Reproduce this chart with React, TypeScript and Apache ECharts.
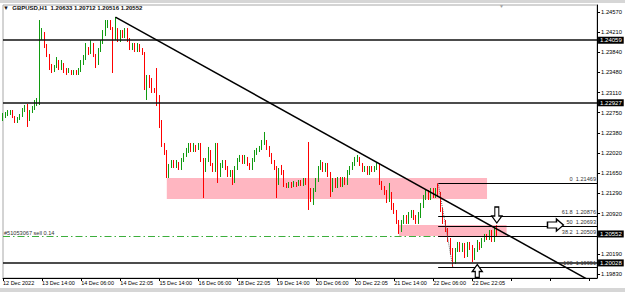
import { useEffect, useRef } from 'react';
import * as echarts from 'echarts';

const FONT = "'Liberation Sans', Arial, sans-serif";

// time axis: one label every 16 hourly bars
const timeLabels = [
  '12 Dec 2022', '13 Dec 14:00', '14 Dec 06:00', '14 Dec 22:05', '15 Dec 14:00',
  '16 Dec 06:00', '18 Dec 22:05', '19 Dec 14:00', '20 Dec 06:00', '20 Dec 22:05',
  '21 Dec 14:00', '22 Dec 06:00', '22 Dec 22:05',
];
const labelStep = 16;
const slotCount = 244; // visible bar slots including right chart shift
const categories = Array.from({ length: slotCount }, (_, i) => 'b' + i);

// price axis tick labels
const yTicks = [1.2457, 1.2421, 1.2384, 1.2348, 1.2311, 1.2275, 1.2238, 1.2202, 1.2165, 1.2129, 1.2092, 1.2019, 1.1983];
const yMin = 1.19755;
const yMax = 1.24697;

// GBPUSD H1 candles: [open, close, low, high]
const candles: [number, number, number, number][] = [
  [1.22651, 1.22687, 1.22597, 1.22742], [1.22687, 1.22724, 1.22651, 1.2276], [1.22724, 1.22742, 1.22687, 1.22796],
  [1.22742, 1.2276, 1.22706, 1.22796], [1.2276, 1.22669, 1.22651, 1.22796], [1.22669, 1.22597, 1.22561, 1.22687],
  [1.22597, 1.22651, 1.22561, 1.22669], [1.22651, 1.22687, 1.22615, 1.22724], [1.22687, 1.22796, 1.22669, 1.22832],
  [1.22796, 1.22832, 1.2276, 1.22887], [1.22832, 1.22615, 1.22489, 1.22905], [1.22615, 1.2276, 1.22597, 1.22796],
  [1.2276, 1.22832, 1.22742, 1.22868], [1.22832, 1.22905, 1.22796, 1.22977], [1.22905, 1.22977, 1.22868, 1.23013],
  [1.22977, 1.24099, 1.22887, 1.24425], [1.24099, 1.2419, 1.24063, 1.2428], [1.2419, 1.23936, 1.23918, 1.24208],
  [1.23936, 1.23792, 1.23755, 1.23991], [1.23792, 1.23611, 1.2352, 1.2381], [1.23611, 1.2352, 1.23466, 1.23629],
  [1.2352, 1.23593, 1.23484, 1.23611], [1.23593, 1.23701, 1.23556, 1.23755], [1.23701, 1.23556, 1.2352, 1.23701],
  [1.23556, 1.23647, 1.2352, 1.23701], [1.23647, 1.2352, 1.23466, 1.23647], [1.2352, 1.23484, 1.2343, 1.23556],
  [1.23484, 1.2352, 1.23466, 1.23556], [1.2352, 1.23466, 1.2343, 1.2352], [1.23466, 1.23502, 1.2343, 1.2352],
  [1.23502, 1.23466, 1.2343, 1.2352], [1.23466, 1.2352, 1.2343, 1.23556], [1.2352, 1.23647, 1.23484, 1.23701],
  [1.23647, 1.23755, 1.23611, 1.23792], [1.23755, 1.23918, 1.23701, 1.24009], [1.23918, 1.23846, 1.23792, 1.23936],
  [1.23846, 1.23991, 1.2381, 1.24063], [1.23991, 1.23792, 1.23755, 1.24009], [1.23792, 1.23629, 1.23556, 1.2381],
  [1.23629, 1.23882, 1.23611, 1.23918], [1.23882, 1.24027, 1.23846, 1.24063], [1.24027, 1.2419, 1.23991, 1.24244],
  [1.2419, 1.24298, 1.24135, 1.24425], [1.24298, 1.24389, 1.2428, 1.24425], [1.24389, 1.2428, 1.24244, 1.24425],
  [1.2428, 1.24099, 1.23466, 1.24298], [1.24099, 1.24244, 1.24063, 1.24479], [1.24244, 1.24063, 1.24027, 1.2428],
  [1.24063, 1.24208, 1.24027, 1.24244], [1.24208, 1.24135, 1.24099, 1.24244], [1.24135, 1.24244, 1.24099, 1.2428],
  [1.24244, 1.24063, 1.24027, 1.2428], [1.24063, 1.23918, 1.23882, 1.24099], [1.23918, 1.23972, 1.23882, 1.24009],
  [1.23972, 1.23882, 1.23846, 1.24009], [1.23882, 1.23972, 1.23846, 1.24009], [1.23972, 1.23882, 1.23846, 1.23991],
  [1.23882, 1.2381, 1.23792, 1.23918], [1.2381, 1.23194, 1.23158, 1.23846], [1.23194, 1.23375, 1.22977, 1.2343],
  [1.23375, 1.23267, 1.23194, 1.2343], [1.23267, 1.23158, 1.23104, 1.23375], [1.23158, 1.23122, 1.23104, 1.23194],
  [1.23122, 1.23013, 1.22868, 1.23556], [1.23013, 1.22525, 1.2247, 1.23067], [1.22525, 1.22163, 1.22127, 1.22615],
  [1.22163, 1.22018, 1.21982, 1.22199], [1.22018, 1.2162, 1.21565, 1.22072], [1.2162, 1.21782, 1.21565, 1.21819],
  [1.21782, 1.21855, 1.21746, 1.21891], [1.21855, 1.21782, 1.21746, 1.21891], [1.21782, 1.21837, 1.21746, 1.21891],
  [1.21837, 1.21746, 1.2171, 1.21855], [1.21746, 1.21891, 1.2171, 1.21927], [1.21891, 1.21982, 1.21855, 1.22018],
  [1.21982, 1.22036, 1.21946, 1.22109], [1.22036, 1.22163, 1.22018, 1.22199], [1.22163, 1.22072, 1.22036, 1.22199],
  [1.22072, 1.22145, 1.22036, 1.22199], [1.22145, 1.22091, 1.22036, 1.22163], [1.22091, 1.22163, 1.22072, 1.22199],
  [1.22163, 1.21891, 1.21855, 1.22199], [1.21891, 1.2171, 1.21203, 1.21927], [1.2171, 1.21891, 1.21674, 1.21927],
  [1.21891, 1.22036, 1.21855, 1.22127], [1.22036, 1.21801, 1.21782, 1.22072], [1.21801, 1.2171, 1.21674, 1.21837],
  [1.2171, 1.22163, 1.21674, 1.22199], [1.22163, 1.2162, 1.21475, 1.22199], [1.2162, 1.21801, 1.21583, 1.21837],
  [1.21801, 1.21855, 1.21746, 1.21891], [1.21855, 1.21746, 1.2171, 1.21891], [1.21746, 1.2162, 1.21583, 1.21782],
  [1.2162, 1.21674, 1.21583, 1.2171], [1.21674, 1.21493, 1.21439, 1.2171], [1.21493, 1.21746, 1.21475, 1.21782],
  [1.21746, 1.21891, 1.2171, 1.21927], [1.21891, 1.21946, 1.21855, 1.21982], [1.21946, 1.21855, 1.21819, 1.21982],
  [1.21855, 1.21927, 1.21819, 1.21982], [1.21927, 1.21801, 1.21782, 1.21946], [1.21801, 1.21746, 1.2171, 1.21837],
  [1.21746, 1.21891, 1.2171, 1.21927], [1.21891, 1.22036, 1.21855, 1.22072], [1.22036, 1.22072, 1.21982, 1.22109],
  [1.22072, 1.22109, 1.22036, 1.22145], [1.22109, 1.22217, 1.22072, 1.22253], [1.22217, 1.22253, 1.22163, 1.22398],
  [1.22253, 1.22109, 1.22072, 1.22253], [1.22109, 1.21982, 1.21946, 1.22145], [1.21982, 1.21855, 1.21819, 1.22018],
  [1.21855, 1.21746, 1.2171, 1.21891], [1.21746, 1.21475, 1.21203, 1.21782], [1.21475, 1.2171, 1.21439, 1.21746],
  [1.2171, 1.21674, 1.2162, 1.21801], [1.21674, 1.21439, 1.21402, 1.2171], [1.21439, 1.21402, 1.21384, 1.21475],
  [1.21402, 1.21475, 1.21384, 1.21493], [1.21475, 1.21421, 1.21384, 1.21493], [1.21421, 1.21475, 1.21402, 1.21511],
  [1.21475, 1.21439, 1.21402, 1.21493], [1.21439, 1.21511, 1.21421, 1.21529], [1.21511, 1.21457, 1.21421, 1.21529],
  [1.21457, 1.21529, 1.21421, 1.21565], [1.21529, 1.21475, 1.21439, 1.21565], [1.21475, 1.21348, 1.20986, 1.22217],
  [1.21348, 1.21167, 1.21131, 1.21384], [1.21167, 1.21348, 1.21077, 1.21384], [1.21348, 1.21529, 1.21312, 1.21565],
  [1.21529, 1.21746, 1.21493, 1.21782], [1.21746, 1.21837, 1.2171, 1.21891], [1.21837, 1.2171, 1.21674, 1.21855],
  [1.2171, 1.21801, 1.21674, 1.21837], [1.21801, 1.2162, 1.21583, 1.21837], [1.2162, 1.21348, 1.21221, 1.21674],
  [1.21348, 1.21529, 1.21312, 1.21565], [1.21529, 1.21421, 1.21384, 1.21565], [1.21421, 1.21565, 1.21384, 1.21583],
  [1.21565, 1.21439, 1.21402, 1.21583], [1.21439, 1.21565, 1.21402, 1.21583], [1.21565, 1.21475, 1.21439, 1.21583],
  [1.21475, 1.21674, 1.21439, 1.2171], [1.21674, 1.21746, 1.2162, 1.21782], [1.21746, 1.21819, 1.2171, 1.21855],
  [1.21819, 1.21891, 1.21782, 1.21946], [1.21891, 1.21927, 1.21855, 1.21982], [1.21927, 1.21801, 1.21782, 1.21946],
  [1.21801, 1.2171, 1.21674, 1.21837], [1.2171, 1.21746, 1.21674, 1.21782], [1.21746, 1.21674, 1.2162, 1.21782],
  [1.21674, 1.21746, 1.2162, 1.21782], [1.21746, 1.21692, 1.21674, 1.21782], [1.21692, 1.21746, 1.21674, 1.21782],
  [1.21746, 1.21819, 1.2171, 1.21837], [1.21819, 1.21475, 1.21439, 1.21837], [1.21475, 1.21384, 1.21348, 1.21511],
  [1.21384, 1.21312, 1.21258, 1.21421], [1.21312, 1.21167, 1.21113, 1.21348], [1.21167, 1.21258, 1.21131, 1.21475],
  [1.21258, 1.21077, 1.20986, 1.21312], [1.21077, 1.2095, 1.20914, 1.21113], [1.2095, 1.20769, 1.20733, 1.20986],
  [1.20769, 1.20624, 1.20552, 1.20805], [1.20624, 1.20769, 1.20588, 1.20805], [1.20769, 1.20841, 1.20733, 1.20895],
  [1.20841, 1.20769, 1.20733, 1.20895], [1.20769, 1.20895, 1.20733, 1.2095], [1.20895, 1.2095, 1.20841, 1.20986],
  [1.2095, 1.20841, 1.20805, 1.20986], [1.20841, 1.20769, 1.20733, 1.20895], [1.20769, 1.20895, 1.20733, 1.2095],
  [1.20895, 1.21077, 1.20841, 1.21113], [1.21077, 1.21221, 1.21022, 1.21258], [1.21221, 1.21312, 1.21167, 1.21348],
  [1.21312, 1.21203, 1.21167, 1.21348], [1.21203, 1.21348, 1.21167, 1.21384], [1.21348, 1.21239, 1.21203, 1.21384],
  [1.21239, 1.21348, 1.21203, 1.21384], [1.21348, 1.21258, 1.21221, 1.21469], [1.21258, 1.20986, 1.2095, 1.21312],
  [1.20986, 1.20769, 1.20733, 1.21022], [1.20769, 1.20624, 1.20588, 1.20805], [1.20624, 1.20443, 1.20407, 1.2066],
  [1.20443, 1.20262, 1.20171, 1.20479], [1.20262, 1.20045, 1.19951, 1.20298], [1.20045, 1.20262, 1.20009, 1.20298],
  [1.20262, 1.20371, 1.20226, 1.20407], [1.20371, 1.20262, 1.20226, 1.20407], [1.20262, 1.20352, 1.20226, 1.20389],
  [1.20352, 1.20171, 1.20117, 1.20389], [1.20171, 1.20371, 1.20135, 1.20407], [1.20371, 1.20298, 1.20262, 1.20407],
  [1.20298, 1.20117, 1.20045, 1.20352], [1.20117, 1.20262, 1.20081, 1.20298], [1.20262, 1.20389, 1.20226, 1.20443],
  [1.20389, 1.20316, 1.20262, 1.20407], [1.20316, 1.20443, 1.20298, 1.20479], [1.20443, 1.20515, 1.20407, 1.20552],
  [1.20515, 1.20479, 1.20443, 1.20552], [1.20479, 1.20588, 1.20443, 1.20624], [1.20588, 1.20443, 1.20407, 1.20624],
  [1.20443, 1.2066, 1.20407, 1.20696], [1.20633, 1.20552, 1.20516, 1.20712],
];

// horizontal levels
const hLevels = [1.24059, 1.22927, 1.20028];
const currentPrice = 1.20552;
const orderPrice = 1.20505;
const orderText = '#51053067 sell 0.14';

// fibonacci retracement
const fibRatios = ['0', '61.8', '50', '38.2', '100'];
const fibPrices = [1.21469, 1.20876, 1.20693, 1.20509, 1.19951];
const fibFrom = 178;
const fibTo = 243;
const fibAnchors: [number, number][] = [[178, 1.21469], [184, 1.19951]];

// trend line
const trendPoints: [number, number][] = [[46, 1.24479], [243, 1.19634]];

// pink zones: [startBar, endBar, top, bottom]
const zones: [number, number, number, number][] = [
  [67, 198, 1.21565, 1.21185],
  [162, 206, 1.20714, 1.20515],
];

// arrows: [bar, price]
const downArrow: [number, number] = [202, 1.20895];
const rightArrow: [number, number] = [226, 1.20714];
const upArrow: [number, number] = [194, 1.19882];

const header = '▼  GBPUSD,H1  1.20633 1.20712 1.20516 1.20552';

const showLabel = (index: number) => index % labelStep === 0;

const boxLabel = (v: number) => ({
  show: true,
  position: 'end' as const,
  distance: 1,
  formatter: v.toFixed(5),
  backgroundColor: '#000',
  color: '#fff',
  padding: [1, 2, 0, 2],
  fontSize: 6,
  fontFamily: FONT,
});

export default function App() {
  const ref = useRef<HTMLDivElement>(null);
  useEffect(() => {
    const chart = echarts.init(ref.current!, null, { renderer: 'svg' });
    const fibLines = fibPrices.map((p, k) => {
      const style = { color: '#000', width: 1, type: 'solid' as const };
      const label = {
        show: true,
        position: 'insideEndTop' as const,
        distance: 1,
        formatter: `${fibRatios[k]}  ${p.toFixed(5)}`,
        fontSize: 5.6,
        fontFamily: FONT,
        color: '#333',
      };
      return [
        { coord: [fibFrom, p], lineStyle: style, label },
        { coord: [fibTo, p], lineStyle: style, label },
      ];
    });
    const option: any = {
      animation: false,
      backgroundColor: '#fff',
      textStyle: { fontFamily: FONT },
      title: {
        text: header,
        left: 3,
        top: 5,
        padding: 0,
        textStyle: { fontSize: 6, fontWeight: 'bold', fontFamily: FONT, color: '#111' },
      },
      graphic: [
        { type: 'rect', left: 0, top: 0, shape: { width: 625, height: 3 }, style: { fill: '#d6d6d6' }, silent: true },
        { type: 'rect', left: 0, top: 288, shape: { width: 625, height: 4 }, style: { fill: '#d6d6d6' }, silent: true },
        { type: 'text', left: 499, top: 3, style: { text: '▼', fontSize: 5, fill: '#a0a0a0' }, silent: true },
      ],
      grid: {
        left: 1, right: 26, top: 5, bottom: 14,
        show: true, borderColor: '#a8a8a8', borderWidth: 1, backgroundColor: '#fff',
      },
      xAxis: {
        type: 'category',
        data: categories,
        boundaryGap: false,
        axisLine: { show: true, lineStyle: { color: '#000', width: 1 } },
        axisTick: { show: true, interval: showLabel, length: 3, lineStyle: { color: '#000' } },
        axisLabel: {
          interval: showLabel,
          formatter: (_v: string, i: number) => (i % labelStep === 0 ? timeLabels[i / labelStep] ?? '' : ''),
          align: 'left',
          margin: 2,
          fontSize: 5.5,
          fontFamily: FONT,
          color: '#000',
        },
        splitLine: { show: false },
      },
      yAxis: {
        type: 'value',
        position: 'right',
        min: yMin,
        max: yMax,
        splitLine: { show: false },
        axisLine: { show: true, lineStyle: { color: '#000', width: 1 } },
        axisTick: { show: true, length: 3, customValues: yTicks, lineStyle: { color: '#000' } },
        axisLabel: {
          customValues: yTicks,
          formatter: (v: number) => v.toFixed(5),
          fontSize: 5.8,
          fontFamily: FONT,
          color: '#000',
          margin: 4,
        },
      },
      series: [
        {
          name: 'zones',
          type: 'line',
          data: [],
          z: 1,
          silent: true,
          markArea: {
            silent: true,
            itemStyle: { color: '#ffb6c1', opacity: 1 },
            data: zones.map(([a, b, top, bot]) => [
              { xAxis: a, yAxis: top },
              { xAxis: b, yAxis: bot },
            ]),
          },
        },
        {
          name: 'GBPUSD',
          type: 'candlestick',
          data: candles,
          barWidth: 1,
          z: 3,
          clip: true,
          itemStyle: {
            color: '#109a10', color0: '#ff0000',
            borderColor: '#109a10', borderColor0: '#ff0000',
            borderWidth: 1,
          },
        },
        {
          name: 'levels',
          type: 'line',
          data: [],
          z: 5,
          silent: true,
          markLine: {
            silent: true,
            precision: 5,
            symbol: ['none', 'none'],
            data: [
              {
                yAxis: orderPrice,
                lineStyle: { color: '#3cae3c', width: 1, type: [7, 3, 1.5, 3] },
                label: {
                  show: true, position: 'insideStartTop', distance: 1, formatter: orderText,
                  fontSize: 5.6, fontFamily: FONT, color: '#333',
                },
              },
              ...hLevels.map((v) => ({
                yAxis: v,
                lineStyle: { color: '#111', width: 1.5, type: 'solid' },
                label: boxLabel(v),
              })),
              {
                yAxis: currentPrice,
                lineStyle: { color: 'rgba(0,0,0,0)', width: 0.1 },
                label: boxLabel(currentPrice),
              },
              ...fibLines,
            ],
          },
        },
        {
          name: 'fibAnchor',
          type: 'line',
          data: fibAnchors,
          z: 5,
          symbol: 'none',
          silent: true,
          lineStyle: { color: '#666', width: 1, type: 'dotted' },
        },
        {
          name: 'trend',
          type: 'line',
          data: trendPoints,
          z: 6,
          symbol: 'none',
          clip: true,
          silent: true,
          lineStyle: { color: '#000', width: 1.5 },
          markPoint: {
            silent: true,
            label: { show: false },
            itemStyle: { color: '#fff', borderColor: '#000', borderWidth: 1.3 },
            data: [
              { coord: downArrow, symbol: 'path://M3,0L7,0L7,9L10,9L5,16L0,9L3,9Z', symbolSize: [10, 16] },
              { coord: rightArrow, symbol: 'path://M0,3L9,3L9,0L16,6L9,12L9,9L0,9Z', symbolSize: [16, 12] },
              { coord: upArrow, symbol: 'path://M5,0L10,7L7,7L7,13L3,13L3,7L0,7Z', symbolSize: [10, 13] },
            ],
          },
        },
      ],
    };
    chart.setOption(option);
    return () => chart.dispose();
  }, []);
  return (
    <div
      ref={ref}
      style={{ position: 'absolute', left: 0, top: 0, width: 625, height: 292, background: '#fff' }}
    />
  );
}
